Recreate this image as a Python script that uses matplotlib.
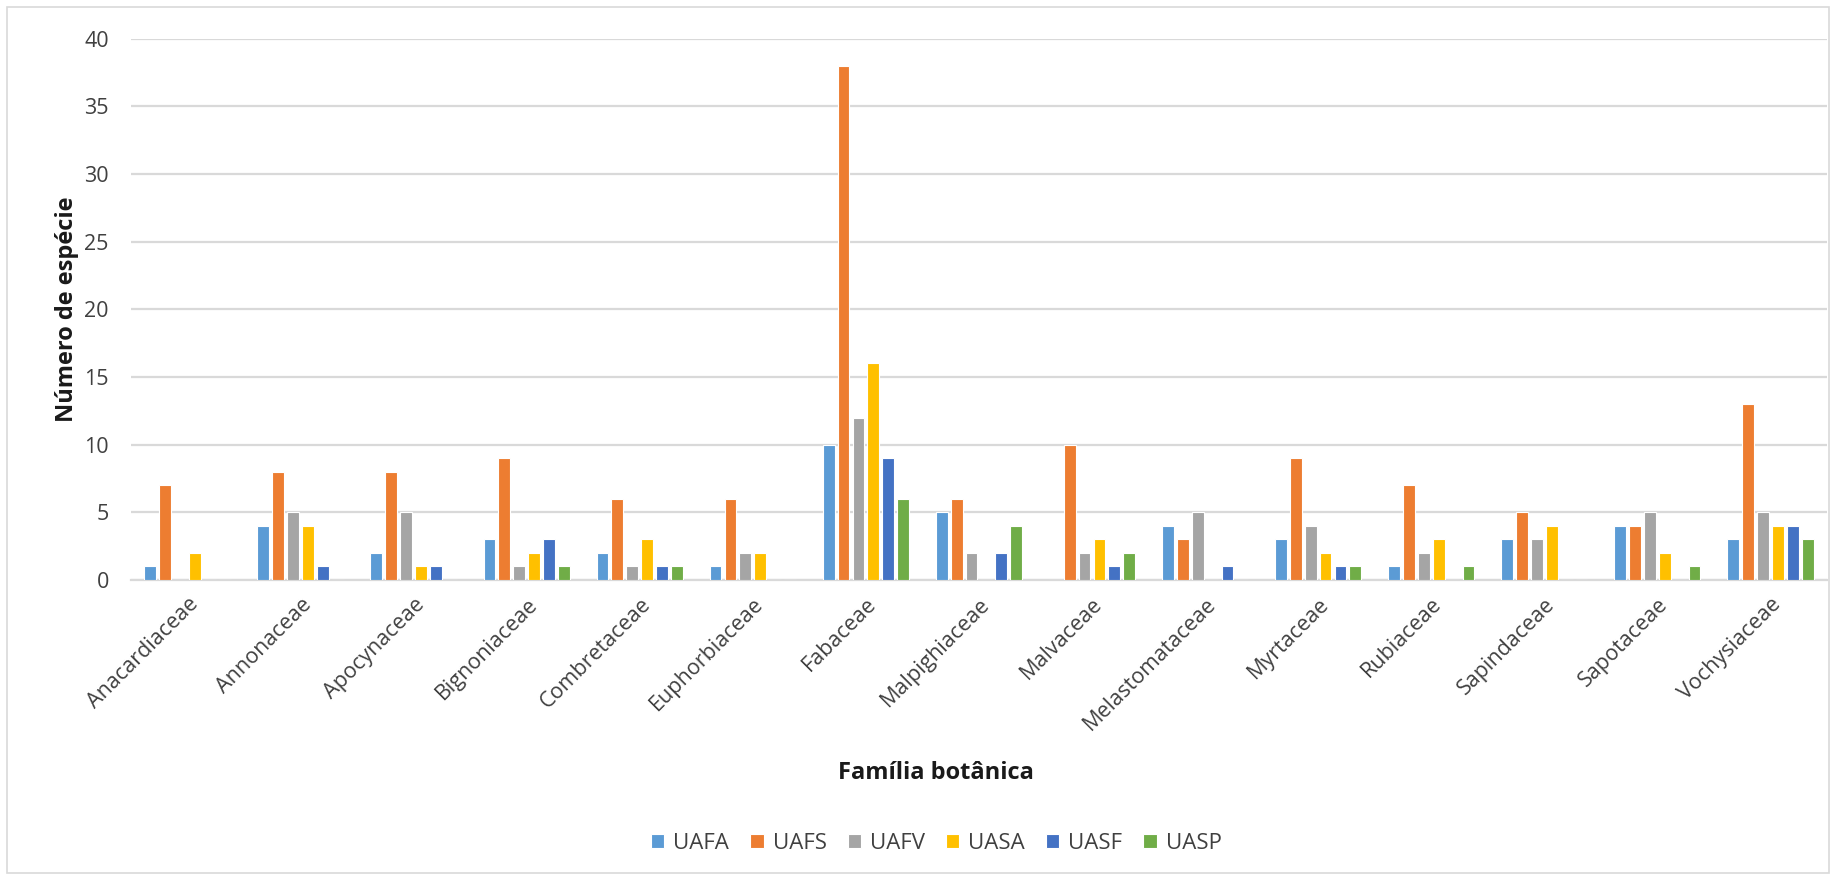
import matplotlib
matplotlib.use("Agg")
import matplotlib.pyplot as plt
from matplotlib.patches import Rectangle
import numpy as np

plt.rcParams['font.family'] = ['Open Sans', 'DejaVu Sans']

familias = ["Anacardiaceae", "Annonaceae", "Apocynaceae", "Bignoniaceae",
            "Combretaceae", "Euphorbiaceae", "Fabaceae", "Malpighiaceae",
            "Malvaceae", "Melastomataceae", "Myrtaceae", "Rubiaceae",
            "Sapindaceae", "Sapotaceae", "Vochysiaceae"]

UAFA = [1, 4, 2, 3, 2, 1, 10, 5, 0, 4, 3, 1, 3, 4, 3]
UAFS = [7, 8, 8, 9, 6, 6, 38, 6, 10, 3, 9, 7, 5, 4, 13]
UAFV = [0, 5, 5, 1, 1, 2, 12, 2, 2, 5, 4, 2, 3, 5, 5]
UASA = [2, 4, 1, 2, 3, 2, 16, 0, 3, 0, 2, 3, 4, 2, 4]
UASF = [0, 1, 1, 3, 1, 0, 9, 2, 1, 1, 1, 0, 0, 0, 4]
UASP = [0, 0, 0, 1, 1, 0, 6, 4, 2, 0, 1, 1, 0, 1, 3]

series = {"UAFA": UAFA, "UAFS": UAFS, "UAFV": UAFV,
          "UASA": UASA, "UASF": UASF, "UASP": UASP}
cores = ["#5B9BD5", "#ED7D31", "#A5A5A5", "#FFC000", "#4472C4", "#70AD47"]

fig = plt.figure(figsize=(18.36, 8.8), dpi=100)
ax = fig.add_axes([0.0714, 0.341, 0.9236, 0.615])

x = np.arange(len(familias))
n = len(series)
passo = 0.132
largura = 0.105
for i, ((nome, vals), cor) in enumerate(zip(series.items(), cores)):
    desloc = (i - (n - 1) / 2) * passo
    ax.bar(x + desloc, vals, width=largura, color=cor, label=nome,
           edgecolor="white", linewidth=0.8, zorder=3)

ax.set_xlim(-0.5, len(familias) - 0.5)
ax.set_ylim(0, 40)
ax.set_yticks(range(0, 41, 5))
ax.grid(axis="y", color="#d9d9d9", linewidth=1.6, zorder=0)
ax.set_axisbelow(True)
for s in ["top", "right", "left"]:
    ax.spines[s].set_visible(False)
ax.spines["bottom"].set_color("#d9d9d9")
ax.spines["bottom"].set_linewidth(1.6)
ax.tick_params(axis="both", length=0, labelsize=15.5, colors="#404040")
ax.tick_params(axis="y", pad=16)
ax.set_xticks(x)
ax.set_xticklabels(familias, rotation=45, ha="right", rotation_mode="anchor")
ax.tick_params(axis="x", pad=10)

ax.set_ylabel("Número de espécie", fontsize=17, fontweight="bold",
              labelpad=4, color="#1a1a1a")
fig.text(0.51, 0.122, "Família botânica", ha="center", va="center",
         fontsize=17, fontweight="bold", color="#1a1a1a")

leg = fig.legend(loc="center", bbox_to_anchor=(0.51, 0.042), ncol=6,
                 frameon=False, fontsize=16, handlelength=0.6,
                 handleheight=0.6, handletextpad=0.4, columnspacing=0.95)
for t in leg.get_texts():
    t.set_color("#404040")

fig.patches.append(Rectangle((0.004, 0.008), 0.992, 0.984, transform=fig.transFigure,
                             fill=False, edgecolor="#d9d9d9", linewidth=1.2))

fig.savefig("out.png", dpi=100)
